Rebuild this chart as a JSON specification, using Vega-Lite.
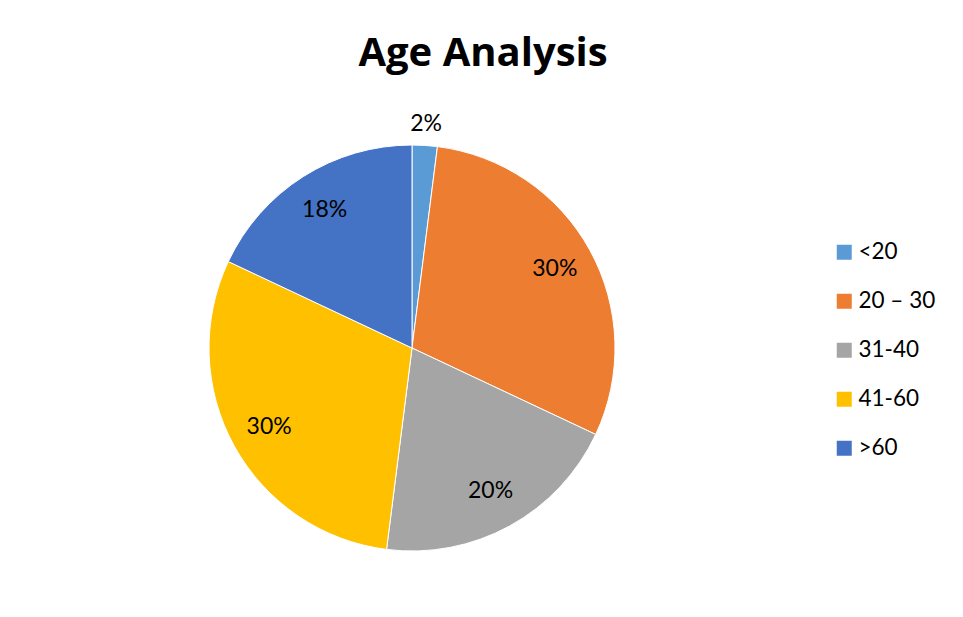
{
  "$schema": "https://vega.github.io/schema/vega-lite/v6.json",
  "autosize": {"type": "none"},
  "width": 800,
  "height": 520,
  "padding": {"left": 12, "top": 88, "right": 151, "bottom": 9},
  "background": "white",
  "title": {
    "text": "Age Analysis",
    "font": "Open Sans",
    "fontSize": 40,
    "fontWeight": "bold",
    "color": "#000000",
    "anchor": "middle",
    "dx": 71,
    "offset": 14
  },
  "data": {
    "values": [
      {"age": "<20", "share": 0.02, "rank": 1},
      {"age": "20 – 30", "share": 0.30, "rank": 2},
      {"age": "31-40", "share": 0.20, "rank": 3},
      {"age": "41-60", "share": 0.30, "rank": 4},
      {"age": ">60", "share": 0.18, "rank": 5}
    ]
  },
  "encoding": {
    "theta": {"field": "share", "type": "quantitative", "stack": true},
    "order": {"field": "rank", "type": "quantitative"}
  },
  "layer": [
    {
      "mark": {"type": "arc", "radius": 203, "stroke": "white", "strokeWidth": 1},
      "encoding": {
        "color": {
          "field": "age",
          "type": "nominal",
          "sort": ["<20", "20 – 30", "31-40", "41-60", ">60"],
          "scale": {
            "domain": ["<20", "20 – 30", "31-40", "41-60", ">60"],
            "range": ["#5B9BD5", "#ED7D31", "#A5A5A5", "#FFC000", "#4472C4"]
          },
          "legend": {
            "title": null,
            "orient": "none",
            "legendX": 821,
            "legendY": 153,
            "padding": 0,
            "symbolType": "square",
            "symbolSize": 225,
            "symbolStrokeWidth": 0,
            "labelFont": "Lato",
            "labelFontSize": 22.5,
            "labelColor": "#000000",
            "labelOffset": 3,
            "rowPadding": 26
          }
        }
      }
    },
    {
      "mark": {"type": "text", "radius": 163, "font": "Lato", "fontSize": 23, "color": "#000000"},
      "encoding": {
        "opacity": {"condition": {"test": "datum.age === '<20'", "value": 0}, "value": 1},
        "text": {"field": "share", "type": "quantitative", "format": ".0%"}
      }
    },
    {
      "mark": {"type": "text", "radius": 224, "font": "Lato", "fontSize": 23, "color": "#000000"},
      "encoding": {
        "opacity": {"condition": {"test": "datum.age === '<20'", "value": 1}, "value": 0},
        "text": {"field": "share", "type": "quantitative", "format": ".0%"}
      }
    }
  ]
}
